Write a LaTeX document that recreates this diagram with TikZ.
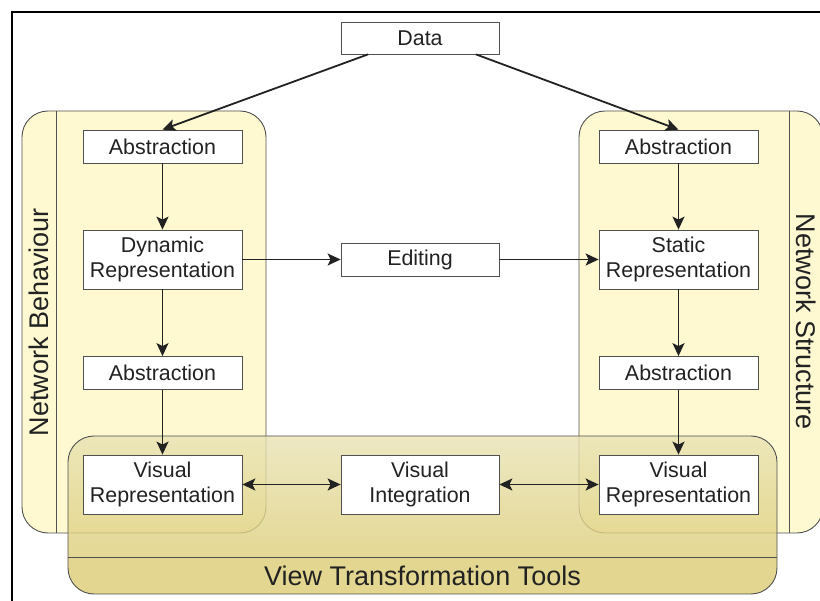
\documentclass[tikz,border=0pt]{standalone}
\usepackage{fontspec}
\setmainfont{Liberation Sans}
\usetikzlibrary{arrows.meta}
\definecolor{cream}{HTML}{FFF9D2}
\definecolor{olivetop}{HTML}{E8E2B4}
\definecolor{olivebot}{HTML}{DDCE7A}
\definecolor{olivestrip}{HTML}{DCCC74}
\definecolor{edgegray}{HTML}{505050}
\definecolor{ink}{HTML}{222222}
\tikzset{
  box/.style={draw=edgegray, fill=white, line width=0.8pt, rectangle,
    minimum width=159pt, minimum height=33pt, inner sep=0pt, align=center,
    text=ink, font=\fontsize{21.4}{25}\selectfont},
  tallbox/.style={box, minimum height=59pt},
  arr/.style={draw=ink, line width=1.8pt, -{Stealth[length=13pt,width=12pt,inset=3pt]}},
  darr/.style={draw=ink, line width=1.8pt, {Stealth[length=13pt,width=12pt,inset=3pt]}-{Stealth[length=13pt,width=12pt,inset=3pt]}},
  panel/.style={draw=edgegray, line width=0.9pt, fill=cream, rounded corners=26pt},
  biglabel/.style={text=ink, font=\fontsize{27}{30}\selectfont, inner sep=0pt}
}
\begin{document}
\begin{tikzpicture}[x=1pt,y=-1pt]
\useasboundingbox (0,0) rectangle (820,601);
\begin{scope}
\clip (0,0) rectangle (820,601);
% frame
\draw[line width=2.6pt, black] (12,601) -- (12,12) -- (830,12);
% side panels
\path[panel] (22,111) rectangle (266,533);
\draw[edgegray, line width=0.9pt] (56,111) -- (56,533);
\path[panel] (579,111) rectangle (823,533);
\draw[edgegray, line width=0.9pt] (789,111) -- (789,533);
\node[biglabel, rotate=90] (nb) at (39,322) {Network Behaviour};
\node[biglabel, rotate=-90] (ns) at (806,322) {Network Structure};
% view transformation tools panel
\begin{scope}
\clip[rounded corners=26pt] (68,436) rectangle (777,594);
\path[top color=olivetop, bottom color=olivebot, fill opacity=0.8] (68,436) rectangle (777,557);
\path[fill=olivestrip, fill opacity=0.8] (68,557) rectangle (777,594);
\end{scope}
\draw[edgegray, line width=0.9pt, rounded corners=26pt] (68,436) rectangle (777,594);
\draw[edgegray, line width=0.9pt] (68,557) -- (777,557);
\node[biglabel] (vtt) at (422.5,576) {View Transformation Tools};
% nodes
\node[box, minimum width=158pt, minimum height=32pt] (data) at (420,38) {Data};
\node[box] (absL1) at (162.5,146.5) {Abstraction};
\node[box] (absR1) at (678.5,146.5) {Abstraction};
\node[tallbox] (dyn) at (162.5,259.5) {Dynamic\\Representation};
\node[box, minimum width=158pt] (edit) at (420,259.5) {Editing};
\node[tallbox] (stat) at (678.5,259.5) {Static\\Representation};
\node[box] (absL2) at (162.5,373) {Abstraction};
\node[box] (absR2) at (678.5,373) {Abstraction};
\node[tallbox] (visL) at (162.5,484.5) {Visual\\Representation};
\node[tallbox, minimum width=158pt] (visI) at (420,484.5) {Visual\\Integration};
\node[tallbox] (visR) at (678.5,484.5) {Visual\\Representation};
% connectors
\draw[arr] ([xshift=-52pt]data.south) -- (absL1.north);
\draw[arr] ([xshift=56pt]data.south) -- (absR1.north);
\draw[arr] (absL1) -- (dyn);
\draw[arr] (dyn) -- (absL2);
\draw[arr] (absL2) -- (visL);
\draw[arr] (absR1) -- (stat);
\draw[arr] (stat) -- (absR2);
\draw[arr] (absR2) -- (visR);
\draw[arr] (dyn.east) -- (edit.west);
\draw[arr] (edit.east) -- (stat.west);
\draw[darr] (visL.east) -- (visI.west);
\draw[darr] (visI.east) -- (visR.west);
\end{scope}
\end{tikzpicture}
\end{document}
